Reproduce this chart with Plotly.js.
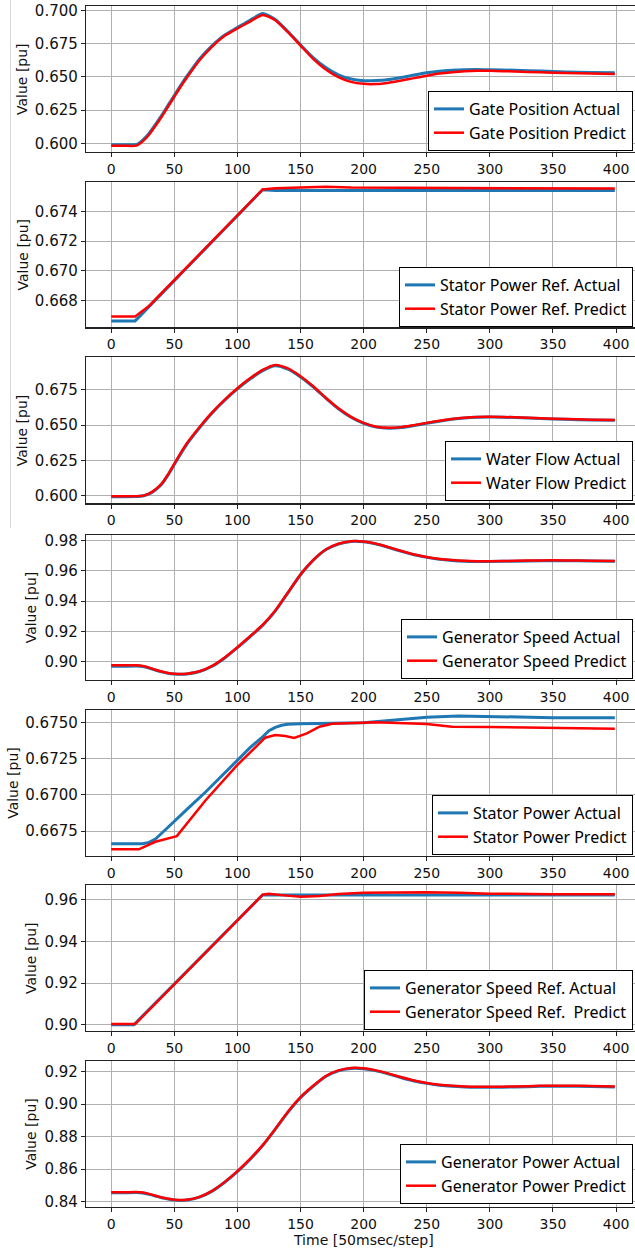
<!DOCTYPE html>
<html>
<head>
<meta charset="utf-8">
<script src="https://cdn.plot.ly/plotly-3.0.1.min.js"></script>
<style>
html,body{margin:0;padding:0;overflow:hidden;background:#fff;}
#chart{width:660px;height:1254px;}
</style>
</head>
<body>
<div id="chart"></div>
<script>
// ---- shared time grid for the smooth curves ----
const steps = [0,10,20,25,30,35,40,45,50,55,60,70,80,90,100,110,120,130,140,150,160,170,180,190,200,210,220,230,240,250,260,270,280,290,300,320,340,360,380,399];

// Panel 1: Gate Position
const gateActual  = [0.5990,0.5990,0.5991,0.6025,0.6075,0.6140,0.6210,0.6285,0.6360,0.6435,0.6505,0.6635,0.6735,0.6815,0.6870,0.6925,0.6975,0.6930,0.6840,0.6740,0.6645,0.6570,0.6515,0.6483,0.6471,0.6472,0.6480,0.6495,0.6513,0.6530,0.6542,0.6549,0.6553,0.6554,0.6553,0.6549,0.6543,0.6537,0.6533,0.6531];
const gatePredict = [0.5982,0.5982,0.5983,0.6015,0.6065,0.6130,0.6200,0.6275,0.6350,0.6425,0.6495,0.6625,0.6727,0.6808,0.6863,0.6915,0.6965,0.6925,0.6835,0.6735,0.6635,0.6555,0.6498,0.6462,0.6447,0.6446,0.6456,0.6472,0.6490,0.6508,0.6524,0.6535,0.6542,0.6545,0.6545,0.6540,0.6534,0.6528,0.6524,0.6522];

// Panel 2: Stator Power Ref.
const statorRefActualX  = [0,19,120,130,200,300,399];
const statorRefActual   = [0.66665,0.66665,0.67545,0.67540,0.67540,0.67540,0.67540];
const statorRefPredictX = [0,19,30,120,130,150,170,190,250,300,399];
const statorRefPredict  = [0.66694,0.66694,0.66765,0.67547,0.67555,0.67558,0.67565,0.67560,0.67558,0.67556,0.67553];

// Panel 3: Water Flow
const flowActual  = [0.5993,0.5993,0.5994,0.5998,0.6012,0.6040,0.6080,0.6145,0.6220,0.6295,0.6365,0.6480,0.6585,0.6675,0.6755,0.6825,0.6885,0.6920,0.6895,0.6840,0.6770,0.6690,0.6615,0.6555,0.6512,0.6485,0.6477,0.6482,0.6496,0.6512,0.6527,0.6540,0.6549,0.6554,0.6556,0.6553,0.6546,0.6540,0.6536,0.6534];
const flowPredict = [0.5995,0.5995,0.5996,0.6000,0.6015,0.6044,0.6085,0.6150,0.6226,0.6301,0.6371,0.6486,0.6590,0.6680,0.6760,0.6830,0.6890,0.6925,0.6900,0.6845,0.6774,0.6693,0.6618,0.6558,0.6515,0.6488,0.6480,0.6485,0.6499,0.6515,0.6530,0.6543,0.6552,0.6557,0.6558,0.6555,0.6548,0.6542,0.6538,0.6536];

// Panel 4: Generator Speed
const speedActual  = [0.8970,0.8970,0.8971,0.8968,0.8958,0.8945,0.8933,0.8924,0.8919,0.8917,0.8919,0.8935,0.8970,0.9025,0.9093,0.9165,0.9240,0.9335,0.9455,0.9575,0.9670,0.9740,0.9778,0.9795,0.9793,0.9778,0.9755,0.9730,0.9707,0.9690,0.9678,0.9670,0.9665,0.9663,0.9663,0.9665,0.9668,0.9668,0.9666,0.9664];
const speedPredict = [0.8976,0.8976,0.8976,0.8972,0.8961,0.8947,0.8935,0.8925,0.8920,0.8918,0.8921,0.8937,0.8973,0.9028,0.9096,0.9168,0.9243,0.9338,0.9458,0.9577,0.9672,0.9742,0.9780,0.9797,0.9795,0.9780,0.9757,0.9732,0.9709,0.9692,0.9680,0.9672,0.9667,0.9665,0.9665,0.9667,0.9670,0.9670,0.9668,0.9666];

// Panel 5: Stator Power
const statorActualX  = [0,25,30,35,40,50,60,75,90,100,110,120,125,130,135,140,145,150,200,225,250,275,300,325,350,399];
const statorActual   = [0.66662,0.66662,0.66672,0.66695,0.66735,0.66814,0.66900,0.67021,0.67150,0.67240,0.67325,0.67400,0.67442,0.67465,0.67480,0.67487,0.67490,0.67490,0.67497,0.67515,0.67535,0.67544,0.67541,0.67535,0.67532,0.67532];
const statorPredictX = [0,22,35,52,75,100,122,130,138,145,155,165,175,200,210,250,270,300,350,399];
const statorPredict  = [0.66624,0.66624,0.66676,0.66715,0.66964,0.67206,0.67394,0.67413,0.67405,0.67392,0.67424,0.67470,0.67490,0.67497,0.67500,0.67488,0.67470,0.67468,0.67461,0.67456];

// Panel 6: Generator Speed Ref.
const speedRefActualX  = [0,18,120,399];
const speedRefActual   = [0.9000,0.9000,0.9623,0.9623];
const speedRefPredictX = [0,19,120,125,135,150,165,180,200,225,250,275,300,350,399];
const speedRefPredict  = [0.9003,0.9003,0.9624,0.9628,0.9622,0.9614,0.9618,0.9627,0.9634,0.9636,0.9636,0.9633,0.9629,0.9626,0.9626];

// Panel 7: Generator Power
const powerActual  = [0.8455,0.8455,0.8456,0.8453,0.8445,0.8435,0.8424,0.8416,0.8410,0.8408,0.8410,0.8428,0.8465,0.8520,0.8585,0.8660,0.8745,0.8845,0.8950,0.9040,0.9110,0.9170,0.9205,0.9220,0.9218,0.9205,0.9185,0.9163,0.9143,0.9128,0.9117,0.9110,0.9106,0.9104,0.9104,0.9106,0.9110,0.9111,0.9109,0.9106];
const powerPredict = [0.8458,0.8458,0.8459,0.8456,0.8448,0.8437,0.8426,0.8418,0.8412,0.8410,0.8412,0.8430,0.8467,0.8522,0.8588,0.8663,0.8748,0.8848,0.8953,0.9043,0.9113,0.9173,0.9208,0.9223,0.9221,0.9208,0.9188,0.9166,0.9146,0.9131,0.9120,0.9113,0.9109,0.9107,0.9107,0.9109,0.9113,0.9114,0.9112,0.9109];

const legendNames = [
  ["Gate Position Actual","Gate Position Predict"],
  ["Stator Power Ref. Actual","Stator Power Ref. Predict"],
  ["Water Flow Actual","Water Flow Predict"],
  ["Generator Speed Actual","Generator Speed Predict"],
  ["Stator Power Actual","Stator Power Predict"],
  ["Generator Speed Ref. Actual","Generator Speed Ref.  Predict"],
  ["Generator Power Actual","Generator Power Predict"]
];
const xTicks = [0,50,100,150,200,250,300,350,400];
const yTitle = "Value [pu]";
const xTitle = "Time [50msec/step]";

// series per panel: [actualX, actualY, predictX, predictY, shape]
const series = [
  [steps, gateActual, steps, gatePredict, 'spline'],
  [statorRefActualX, statorRefActual, statorRefPredictX, statorRefPredict, 'linear'],
  [steps, flowActual, steps, flowPredict, 'spline'],
  [steps, speedActual, steps, speedPredict, 'spline'],
  [statorActualX, statorActual, statorPredictX, statorPredict, 'linear'],
  [speedRefActualX, speedRefActual, speedRefPredictX, speedRefPredict, 'linear'],
  [steps, powerActual, steps, powerPredict, 'spline']
];

// ---- layout geometry (pixels in a 1254-tall page) ----
const H = 1254, plotL = 86, plotW = 554;
const panelPx = [[6,152],[181.7,327.3],[357.3,503.3],[534.7,680],[710,855.7],[885,1031],[1061,1206.7]];
const yRanges = [[0.5935,0.7032],[0.66622,0.67599],[0.5946,0.6979],[0.8879,0.984],[0.66580,0.67585],[0.89698,0.96706],[0.83692,0.92658]];
const yDtick = [0.025,0.002,0.025,0.02,0.0025,0.02,0.02];
const yFmt = ['.3f','.3f','.3f','.2f','.4f','.2f','.2f'];
const yTitleX = [22,22,22,31,13,31,31];
const legendBottom = [151,327,501,679,855,1030,1204];
const py = p => 1 - p / H;
const pxX = p => (p - plotL) / plotW;

const data = [];
const layout = {
  width: 660, height: H,
  margin: {l: plotL, r: 660 - plotL - plotW, t: 0, b: 0},
  paper_bgcolor: '#fff', plot_bgcolor: '#fff',
  showlegend: true,
  annotations: [], shapes: []
};

series.forEach((s, i) => {
  const n = i + 1;
  const xa = n === 1 ? 'x' : 'x' + n;
  const ya = n === 1 ? 'y' : 'y' + n;
  const lg = n === 1 ? 'legend' : 'legend' + n;
  data.push({x: s[0], y: s[1], xaxis: xa, yaxis: ya, type: 'scatter', mode: 'lines',
    name: legendNames[i][0], legend: lg,
    line: {color: '#1f77b4', width: 3, shape: s[4], smoothing: 0.6}});
  data.push({x: s[2], y: s[3], xaxis: xa, yaxis: ya, type: 'scatter', mode: 'lines',
    name: legendNames[i][1], legend: lg,
    line: {color: '#ff0000', width: 2.5, shape: s[4], smoothing: 0.6}});

  const axCommon = {
    showgrid: true, gridcolor: '#b0b0b0', gridwidth: 1,
    zeroline: false, showline: true, linecolor: '#222', linewidth: 1.2, mirror: true,
    ticks: 'outside', ticklen: 4, tickcolor: '#222', tickwidth: 1,
    automargin: false
  };
  layout[n === 1 ? 'xaxis' : 'xaxis' + n] = Object.assign({}, axCommon, {
    domain: [0, 1], anchor: ya, range: [-19.95, 418.95],
    tickvals: xTicks, ticktext: xTicks.map(String),
    tickfont: {family: 'DejaVu Sans', size: 14, color: '#111'}
  });
  layout[n === 1 ? 'yaxis' : 'yaxis' + n] = Object.assign({}, axCommon, {
    domain: [py(panelPx[i][1]), py(panelPx[i][0])], anchor: xa,
    range: yRanges[i], dtick: yDtick[i], tick0: 0, tickformat: yFmt[i],
    tickfont: {family: 'DejaVu Sans', size: 15, color: '#111'}
  });
  layout[lg] = {
    x: pxX(633), xanchor: 'right', y: py(legendBottom[i]), yanchor: 'bottom',
    xref: 'paper', yref: 'paper',
    bgcolor: '#fff', bordercolor: '#000', borderwidth: 1,
    font: {family: 'Noto Sans', size: 16, color: '#000'},
    itemwidth: 30, traceorder: 'normal', tracegroupgap: 0
  };
  layout.annotations.push({
    text: yTitle, xref: 'paper', yref: 'paper', showarrow: false,
    x: pxX(yTitleX[i]), y: py((panelPx[i][0] + panelPx[i][1]) / 2),
    xanchor: 'center', yanchor: 'middle', textangle: -90,
    font: {family: 'DejaVu Sans', size: 14, color: '#111'}
  });
});

layout.annotations.push({
  text: xTitle, xref: 'paper', yref: 'paper', showarrow: false,
  x: pxX(363), y: py(1240), xanchor: 'center', yanchor: 'middle',
  font: {family: 'DejaVu Sans', size: 14, color: '#111'}
});
layout.shapes.push({type: 'line', xref: 'paper', yref: 'paper',
  x0: pxX(10.5), x1: pxX(10.5), y0: py(0), y1: py(528),
  line: {color: '#d9d9d9', width: 1}});

Plotly.newPlot('chart', data, layout, {displayModeBar: false, staticPlot: true});
</script>
</body>
</html>
